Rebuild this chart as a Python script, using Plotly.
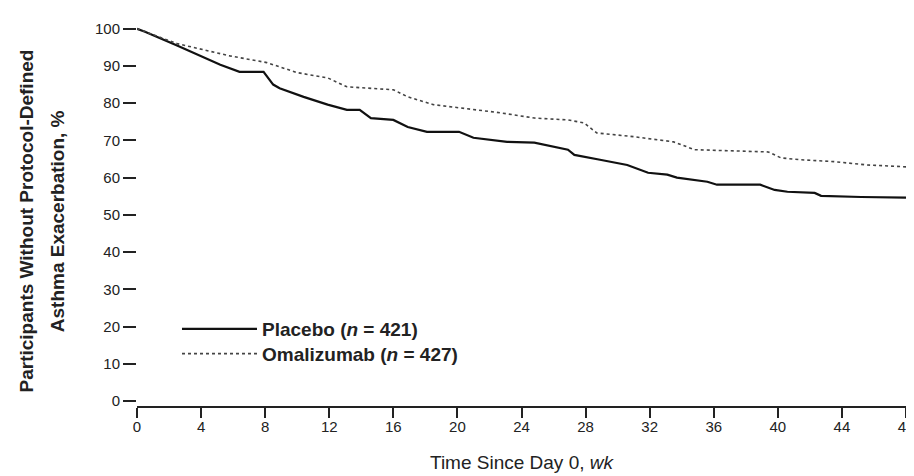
import plotly.graph_objects as go

# Kaplan-Meier style curves (weeks, % without exacerbation)
placebo_wk = [0, 0.5, 2.5, 5.2, 6.4, 7.9, 8.5, 8.9, 10.4, 11.9, 13.1, 13.9, 14.6, 16.0, 16.9, 18.1,
              20.1, 21.0, 23.1, 24.8, 26.9, 27.3, 28.9, 30.6, 31.9, 33.1, 33.7, 35.6, 36.2, 38.9,
              39.8, 40.6, 42.3, 42.7, 45.2, 48.0]
placebo_pct = [100, 99.2, 95.5, 90.3, 88.4, 88.4, 85.0, 84.0, 81.7, 79.6, 78.2, 78.2, 76.0, 75.5,
               73.6, 72.3, 72.3, 70.7, 69.6, 69.4, 67.5, 66.1, 64.8, 63.4, 61.3, 60.8, 60.0, 58.9,
               58.1, 58.1, 56.7, 56.2, 55.9, 55.1, 54.8, 54.6]

omal_wk = [0, 0.5, 2.5, 5.0, 5.8, 8.1, 10.0, 11.9, 13.1, 16.0, 16.9, 18.5, 21.0, 22.7, 24.8, 26.9,
           27.9, 28.7, 31.0, 33.5, 34.8, 39.4, 40.2, 41.4, 43.5, 45.6, 48.0]
omal_pct = [100, 99.2, 96.0, 93.5, 92.7, 90.9, 88.2, 86.8, 84.4, 83.6, 81.7, 79.6, 78.2, 77.4, 76.0,
            75.5, 74.7, 72.0, 71.0, 69.6, 67.5, 66.9, 65.3, 64.8, 64.3, 63.4, 62.9]

x_ticks = [0, 4, 8, 12, 16, 20, 24, 28, 32, 36, 40, 44, 48]
y_ticks = [0, 10, 20, 30, 40, 50, 60, 70, 80, 90, 100]

placebo_name = "<b>Placebo (<i>n</i> = 421)</b>"
omal_name = "<b>Omalizumab (<i>n</i> = 427)</b>"

FONT = "Liberation Sans, Arial, sans-serif"

fig = go.Figure()
fig.add_trace(go.Scatter(x=placebo_wk, y=placebo_pct, mode="lines", name=placebo_name,
                         line=dict(color="#111111", width=2.2), legend="legend"))
fig.add_trace(go.Scatter(x=omal_wk, y=omal_pct, mode="lines", name=omal_name,
                         line=dict(color="#444444", width=1.6, dash="dot"), legend="legend2"))

leg_common = dict(xanchor="left", yanchor="middle", bgcolor="rgba(0,0,0,0)",
                  font=dict(family=FONT, size=19, color="#222222"), itemwidth=75)

# the page adds an 8px body margin, so the figure is sized to the visible area
fig.update_layout(
    width=906, height=468,
    margin=dict(l=129, r=8, t=17, b=70, autoexpand=False),
    paper_bgcolor="white", plot_bgcolor="white",
    font=dict(family=FONT, size=15, color="#222222"),
    showlegend=True,
    legend=dict(x=0.052, y=0.202, **leg_common),
    legend2=dict(x=0.052, y=0.137, **leg_common),
    xaxis=dict(range=[0, 48], tickvals=x_ticks, ticktext=[str(v) for v in x_ticks],
               showline=True, linecolor="#222222", linewidth=2, ticks="outside",
               ticklen=10, tickwidth=2, tickcolor="#222222", showgrid=False, zeroline=False,
               tickfont=dict(size=15), automargin=False, ticklabelstandoff=-4,
               ticklabeloverflow="allow",
               title=dict(text="Time Since Day 0, <i>wk</i>", font=dict(size=19), standoff=22)),
    yaxis=dict(range=[-1.35, 101], tickvals=y_ticks, ticktext=[str(v) for v in y_ticks],
               showline=False, ticks="outside", ticklen=13, tickwidth=2, tickcolor="#222222",
               showgrid=False, zeroline=False, tickfont=dict(size=15), automargin=False,
               ticklabelstandoff=0),
    annotations=[
        dict(text="<b>Participants Without Protocol-Defined</b>", textangle=-90,
             xref="paper", yref="paper", x=-0.144, y=0.485, xanchor="center", yanchor="middle",
             showarrow=False, font=dict(family=FONT, size=19, color="#222222")),
        dict(text="<b>Asthma Exacerbation, %</b>", textangle=-90,
             xref="paper", yref="paper", x=-0.104, y=0.485, xanchor="center", yanchor="middle",
             showarrow=False, font=dict(family=FONT, size=19, color="#222222")),
    ],
)

fig.write_html("out.html")
